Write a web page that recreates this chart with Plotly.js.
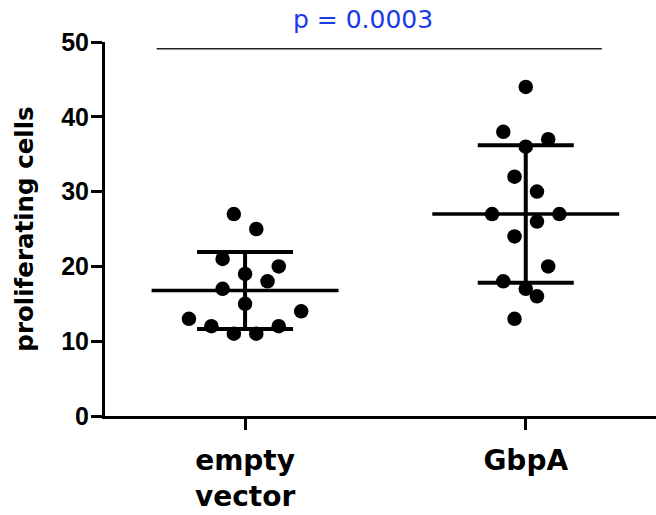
<!DOCTYPE html>
<html>
<head>
<meta charset="utf-8">
<script src="https://cdn.plot.ly/plotly-3.0.1.min.js"></script>
<style>html,body{margin:0;padding:0;background:#fff;}#chart{width:656px;height:515px;}</style>
</head>
<body>
<div id="chart"></div>
<script>
// ---- data ----
const categories = ["empty<br>vector", "GbpA"];
const emptyVectorValues = [27, 25, 21, 20, 19, 18, 17, 15, 14, 13, 12, 12, 11, 11];
const emptyVectorJitter = [-1, 1, -2, 3, 0, 2, -2, 0, 5, -5, -3, 3, -1, 1];
const gbpAValues = [44, 38, 37, 36, 32, 30, 27, 27, 26, 24, 20, 18, 17, 16, 13];
const gbpAJitter = [0, -2, 2, 0, -1, 1, -3, 3, 1, -1, 2, -2, 0, 1, -1];
const yTickVals = [0, 10, 20, 30, 40, 50];
const pText = "p = 0.0003";

// ---- helpers ----
function mean(a){ return a.reduce((s,v)=>s+v,0)/a.length; }
function sd(a){ const m=mean(a); return Math.sqrt(a.reduce((s,v)=>s+(v-m)*(v-m),0)/(a.length-1)); }

const groups = [emptyVectorValues, gbpAValues];
const jitters = [emptyVectorJitter, gbpAJitter];
const step = 0.04;
const meanHalf = 0.333;

const traces = [];
groups.forEach((vals, i) => {
  const m = mean(vals);
  traces.push({x:[i-meanHalf, i+meanHalf], y:[m, m], mode:'lines', line:{color:'#000', width:3.5}, hoverinfo:'skip', showlegend:false});
  traces.push({x:[i], y:[m], mode:'markers', marker:{size:0.1, color:'rgba(0,0,0,0)'},
    error_y:{type:'data', array:[sd(vals)], visible:true, color:'#000', thickness:4, width:48}, showlegend:false, hoverinfo:'skip'});
});
groups.forEach((vals, i) => {
  traces.push({x: jitters[i].map(j => i + j*step), y: vals, mode:'markers',
    marker:{size:14.5, color:'#000'}, showlegend:false});
});

const layout = {
  width:656, height:515,
  margin:{l:105, r:0, t:42, b:99},
  paper_bgcolor:'#fff', plot_bgcolor:'#fff',
  showlegend:false,
  xaxis:{range:[-0.499, 1.464], tickvals:[0,1], ticktext:categories, showgrid:false, zeroline:false,
    showline:true, linewidth:3, linecolor:'#000', ticks:'outside', ticklen:11, tickwidth:3, tickcolor:'#000',
    tickfont:{family:'DejaVu Sans', size:28, weight:'bold', color:'#000'}, ticklabelstandoff:6},
  yaxis:{range:[0,50], tickvals:yTickVals, showgrid:false, zeroline:false,
    showline:true, linewidth:3, linecolor:'#000', ticks:'outside', ticklen:11, tickwidth:3, tickcolor:'#000',
    tickfont:{family:'Liberation Sans', size:25, weight:'bold', color:'#000'}, ticklabelstandoff:-3,
    title:{text:'proliferating cells', font:{family:'DejaVu Sans', size:24.5, weight:'bold', color:'#000'}, standoff:21}},
  shapes:[{type:'line', xref:'x', yref:'y', x0:-0.315, x1:1.271, y0:49.1, y1:49.1, line:{color:'#222', width:1.5}}],
  annotations:[{text:pText, xref:'x', yref:'paper', x:0.42, y:1, yanchor:'bottom', yshift:6, showarrow:false,
    font:{family:'DejaVu Sans', size:25, color:'#1a3ae6'}}]
};

Plotly.newPlot('chart', traces, layout, {displayModeBar:false, staticPlot:true});
</script>
</body>
</html>
